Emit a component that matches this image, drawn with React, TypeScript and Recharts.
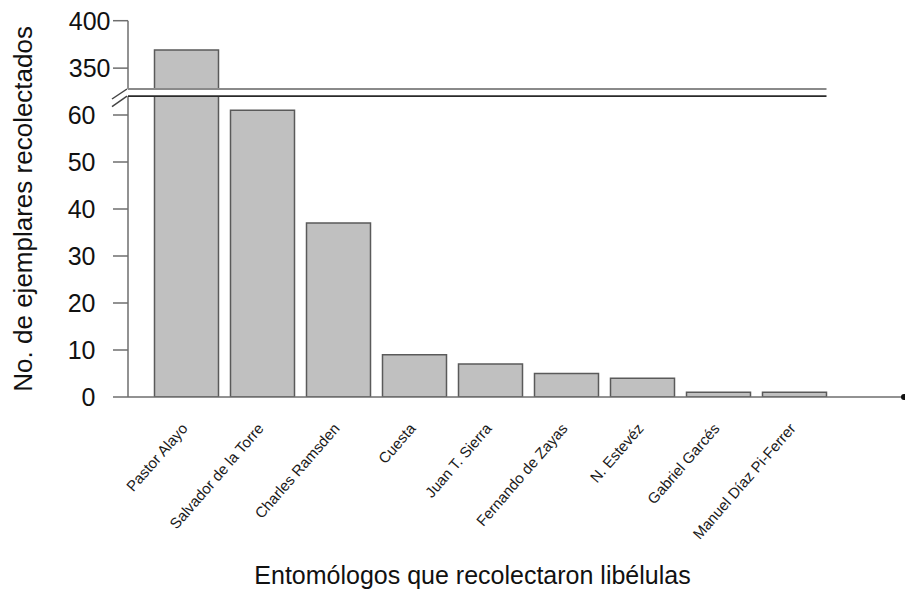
import React from "react";
import { BarChart, Bar, XAxis, YAxis } from "recharts";

const collectors = [
  "Pastor Alayo",
  "Salvador de la Torre",
  "Charles Ramsden",
  "Cuesta",
  "Juan T. Sierra",
  "Fernando de Zayas",
  "N. Estevéz",
  "Gabriel Garcés",
  "Manuel Díaz Pi-Ferrer",
];
const specimens = [369, 61, 37, 9, 7, 5, 4, 1, 1];

const lowerTicks = [0, 10, 20, 30, 40, 50, 60];
const upperTicks = [350, 400];
const lowerDomain = [0, 64];
const upperDomain = [328, 400];

const yTitle = "No. de ejemplares recolectados";
const xTitle = "Entomólogos que recolectaron libélulas";

// layout (page pixels)
const W = 905;
const H = 590;
const PLOT_LEFT = 128;
const PLOT_RIGHT = 904;
const UPPER_TOP = 20.7;
const UPPER_BOTTOM = 89;
const LOWER_TOP = 96.2;
const BASELINE = 397;
const PAD_L = 20.5;
const PAD_R = 71.5;
const BAR_W = 64;
const BAND = (PLOT_RIGHT - PLOT_LEFT - PAD_L - PAD_R) / collectors.length;
const BREAK_END = PLOT_LEFT + PAD_L + BAND * collectors.length - (BAND - BAR_W) / 2;

const AXIS = "#6e6e6e";
const FONT = "'Liberation Sans', Arial, Helvetica, sans-serif";

const lowerData = collectors.map((name, i) => ({ name, value: specimens[i] }));
const upperData = collectors.map((name, i) => ({
  name,
  value: specimens[i] > upperDomain[0] ? specimens[i] : null,
}));

function NameTick(props: any) {
  const { x, payload } = props;
  return (
    <text
      transform={`translate(${x + 2},${BASELINE + 32}) rotate(-49)`}
      textAnchor="end"
      fontSize={15}
      fill="#1a1a1a"
      fontFamily={FONT}
    >
      {payload.value}
    </text>
  );
}

export default function App() {
  return (
    <div
      style={{
        position: "absolute",
        left: 0,
        top: 0,
        width: W,
        height: H,
        background: "#fff",
        fontFamily: FONT,
      }}
    >
      <div style={{ position: "absolute", left: 0, top: 0 }}>
        <BarChart
          width={W}
          height={H}
          data={upperData}
          margin={{ top: UPPER_TOP, right: W - PLOT_RIGHT, bottom: H - UPPER_BOTTOM, left: 0 }}
        >
          <XAxis dataKey="name" hide padding={{ left: PAD_L, right: PAD_R }} />
          <YAxis
            width={PLOT_LEFT}
            domain={upperDomain}
            ticks={upperTicks}
            allowDataOverflow
            interval={0}
            tickSize={15}
            tickMargin={2.5}
            stroke={AXIS}
            strokeWidth={1.5}
            tick={{ fontSize: 25, fill: "#111" }}
          />
          <Bar
            dataKey="value"
            fill="#c0c0c0"
            stroke="#5a5a5a"
            strokeWidth={1.5}
            barSize={BAR_W}
            isAnimationActive={false}
          />
        </BarChart>
      </div>
      <div style={{ position: "absolute", left: 0, top: 0 }}>
        <BarChart
          width={W}
          height={H}
          data={lowerData}
          margin={{ top: LOWER_TOP, right: W - PLOT_RIGHT, bottom: H - BASELINE - 30, left: 0 }}
        >
          <XAxis
            dataKey="name"
            height={30}
            padding={{ left: PAD_L, right: PAD_R }}
            interval={0}
            tickLine={false}
            stroke={AXIS}
            strokeWidth={1.5}
            tick={<NameTick />}
          />
          <YAxis
            width={PLOT_LEFT}
            domain={lowerDomain}
            ticks={lowerTicks}
            allowDataOverflow
            interval={0}
            tickSize={15}
            tickMargin={17.5}
            stroke={AXIS}
            strokeWidth={1.5}
            tick={{ fontSize: 25, fill: "#111" }}
          />
          <Bar
            dataKey="value"
            fill="#c0c0c0"
            stroke="#5a5a5a"
            strokeWidth={1.5}
            barSize={BAR_W}
            isAnimationActive={false}
          />
        </BarChart>
      </div>
      <svg
        width={W}
        height={H}
        style={{ position: "absolute", left: 0, top: 0, pointerEvents: "none" }}
      >
        {/* axis break */}
        <line x1={PLOT_LEFT} y1={UPPER_BOTTOM} x2={BREAK_END} y2={UPPER_BOTTOM} stroke="#8a8a8a" strokeWidth={1.8} />
        <line x1={PLOT_LEFT} y1={LOWER_TOP} x2={BREAK_END} y2={LOWER_TOP} stroke="#2a2a2a" strokeWidth={1.8} />
        <line x1={112} y1={UPPER_BOTTOM + 10} x2={PLOT_LEFT - 1} y2={UPPER_BOTTOM} stroke="#444" strokeWidth={1.5} />
        <line x1={112} y1={LOWER_TOP + 10.5} x2={PLOT_LEFT - 1} y2={LOWER_TOP} stroke="#444" strokeWidth={1.5} />
        <circle cx={PLOT_RIGHT} cy={BASELINE} r={3} fill="#111" />
        <text
          transform={`translate(31.5,${(UPPER_TOP + BASELINE) / 2}) rotate(-90)`}
          textAnchor="middle"
          fontSize={26}
          fill="#111"
          fontFamily={FONT}
        >
          {yTitle}
        </text>
        <text x={472.5} y={584} textAnchor="middle" fontSize={25} fill="#111" fontFamily={FONT}>
          {xTitle}
        </text>
      </svg>
    </div>
  );
}
